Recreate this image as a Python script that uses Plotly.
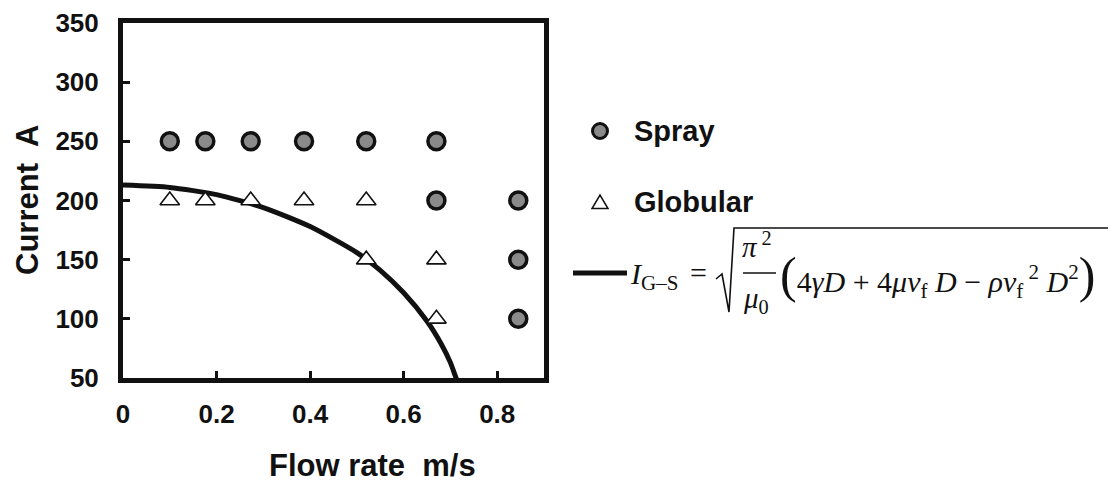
import plotly.graph_objects as go

# Transfer-mode map: flow rate (m/s) vs welding current (A)
spray_flow = [0.10, 0.176, 0.273, 0.387, 0.52, 0.67, 0.67, 0.845, 0.845, 0.845]
spray_current = [250, 250, 250, 250, 250, 250, 200, 200, 150, 100]

globular_flow = [0.10, 0.176, 0.273, 0.387, 0.52, 0.52, 0.67, 0.67]
globular_current = [200, 200, 200, 200, 200, 150, 150, 100]

# Globular-to-spray transition current I_G-S
boundary_flow = [0.0, 0.1, 0.2, 0.3, 0.4, 0.5, 0.55, 0.6, 0.65, 0.68, 0.7, 0.712, 0.72]
boundary_current = [213, 211, 205, 194, 178, 156, 141, 122, 98, 79, 63, 50, 42]

x_ticks = [0, 0.2, 0.4, 0.6, 0.8]
x_tick_labels = ["0", "0.2", "0.4", "0.6", "0.8"]
y_ticks = [50, 100, 150, 200, 250, 300, 350]

W, H = 1116, 486
L, R, T, B = 123, 544, 23, 378  # plot area in pixels


def px(x):
    return (x - L) / (R - L)


def py(y):
    return (B - y) / (B - T)


INK = "#111111"
fig = go.Figure()

fig.add_trace(go.Scatter(
    x=boundary_flow, y=boundary_current, mode="lines",
    line=dict(color=INK, width=5, shape="spline", smoothing=0.6),
    cliponaxis=True, hoverinfo="skip", name="I_G-S",
))
fig.add_trace(go.Scatter(
    x=globular_flow, y=globular_current, mode="markers", name="Globular",
    marker=dict(symbol="triangle-up", size=17, color="white",
                line=dict(color=INK, width=1.6)),
))
fig.add_trace(go.Scatter(
    x=spray_flow, y=spray_current, mode="markers", name="Spray",
    marker=dict(symbol="circle", size=17, color="#8a8a8a",
                line=dict(color=INK, width=3.5)),
))

sans = "Liberation Sans, Arial, sans-serif"
tick_font = dict(family=sans, size=26, color=INK, weight="bold")
title_font = dict(family=sans, size=31, color=INK, weight="bold")

common = dict(showgrid=False, zeroline=False, showline=True, linewidth=5,
              linecolor=INK, mirror=True, ticks="inside", ticklen=7,
              tickwidth=3, tickcolor=INK, tickfont=tick_font, automargin=False)
fig.update_xaxes(range=[0, 0.9], tickvals=x_ticks, ticktext=x_tick_labels,
                 ticklabelstandoff=9, **common)
fig.update_yaxes(range=[50, 350], tickvals=y_ticks, ticklabelstandoff=14, **common)

shapes = []
annotations = []


def put(text, x, y, font, anchor="left", angle=0):
    annotations.append(dict(text=text, x=px(x), y=py(y), xref="paper", yref="paper",
                            xanchor=anchor, yanchor="middle", showarrow=False,
                            font=font, textangle=angle))


# Axis titles
put("Flow rate  m/s", 372, 465, title_font, anchor="center")
put("Current  A", 27, 200, title_font, anchor="center", angle=-90)

# Legend entries
legend_font = dict(family=sans, size=29, color=INK, weight="bold")
cx, r = 600, 7.5
cy = 131
shapes.append(dict(type="circle", xref="paper", yref="paper",
                   x0=px(cx - r), x1=px(cx + r), y0=py(cy + r), y1=py(cy - r),
                   fillcolor="#8a8a8a", line=dict(color=INK, width=3)))
put("Spray", 632, cy, legend_font)
ty = 202
tri = f"M {px(592)} {py(ty + 6.5)} L {px(608)} {py(ty + 6.5)} L {px(600)} {py(ty - 7)} Z"
shapes.append(dict(type="path", xref="paper", yref="paper", path=tri,
                   fillcolor="white", line=dict(color=INK, width=1.5)))
put("Globular", 632, ty, legend_font)

# Line entry followed by the I_G-S expression
fy = 273
shapes.append(dict(type="line", xref="paper", yref="paper",
                   x0=px(573), x1=px(627), y0=py(fy), y1=py(fy),
                   line=dict(color=INK, width=5)))

serif = "Liberation Serif, Times New Roman, serif"
f_main = dict(family=serif, size=30, color=INK)
f_frac = dict(family=serif, size=29, color=INK)

put("<i>I</i><sub>G\u2013S</sub>", 628, fy + 3, f_main)
put("=", 698, fy - 1, f_main, anchor="center")

# radical sign and its bar
rad = (f"M {px(716)} {py(279)} L {px(722)} {py(274)} L {px(729)} {py(312)} "
       f"L {px(734)} {py(228)} L {px(1108)} {py(228)}")
shapes.append(dict(type="path", xref="paper", yref="paper", path=rad,
                   line=dict(color=INK, width=1.6)))

# fraction pi^2 / mu_0
put("<i>\u03c0</i><sup> 2</sup>", 757, fy - 28, f_frac, anchor="center")
shapes.append(dict(type="line", xref="paper", yref="paper",
                   x0=px(743), x1=px(776), y0=py(fy), y1=py(fy),
                   line=dict(color=INK, width=1.5)))
put("<i>\u03bc</i><sub>0</sub>", 756, fy + 27, f_frac, anchor="center")

# bracketed terms
paren = "<span style='font-size:50px'>%s</span>"
expr = (paren % "(" + "4<i>\u03b3D</i> + 4<i>\u03bcv</i><sub>f</sub> <i>D</i> \u2212 "
        "<i>\u03c1v</i><sub>f</sub><sup> 2</sup> <i>D</i><sup>2</sup>" + paren % ")")
put(expr, 778, fy + 2, f_main)

fig.update_layout(
    width=W, height=H,
    margin=dict(l=L, r=W - R, t=T, b=H - B),
    paper_bgcolor="white", plot_bgcolor="white",
    showlegend=False,
    shapes=shapes, annotations=annotations,
)

fig.write_html("out.html")
